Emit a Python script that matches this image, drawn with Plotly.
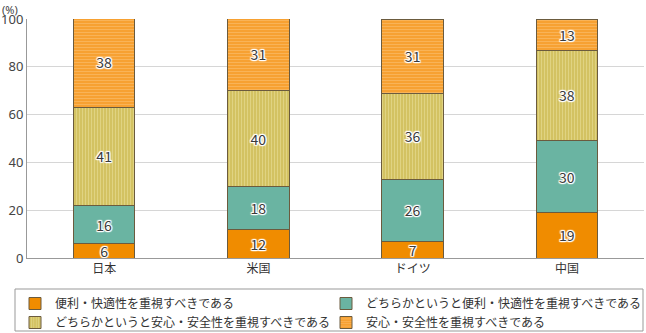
import plotly.graph_objects as go

countries = ["日本", "米国", "ドイツ", "中国"]

convenience = [6, 12, 7, 19]
rather_convenience = [16, 18, 26, 30]
rather_safety = [41, 40, 36, 38]
safety = [38, 31, 31, 13]

series_names = [
    "便利・快適性を重視すべきである",
    "どちらかというと便利・快適性を重視すべきである",
    "どちらかというと安心・安全性を重視すべきである",
    "安心・安全性を重視すべきである",
]
# legend column each series is listed in
legend_column = ["legend", "legend2", "legend", "legend2"]

FONT = "Noto Sans CJK JP"
NUM_FONT = "Noto Sans"
halo = ("1px 0 1px #fff, -1px 0 1px #fff, 0 1px 1px #fff, 0 -1px 1px #fff, "
        "1px 1px 1px #fff, -1px -1px 1px #fff, 1px -1px 1px #fff, -1px 1px 1px #fff")

styles = [
    dict(color="#F08C00"),
    dict(color="#6AB4A2"),
    dict(color="#D3C262", pattern=dict(shape="|", fgcolor="#EFE6A8", size=3, solidity=0.3)),
    dict(color="#F7A132", pattern=dict(shape="-", fgcolor="#FCCB85", size=3, solidity=0.3)),
]

fig = go.Figure()
for name, vals, st, lg in zip(series_names,
                              [convenience, rather_convenience, rather_safety, safety],
                              styles, legend_column):
    fig.add_trace(go.Bar(
        x=countries, y=vals, name=name, legend=lg,
        text=[str(v) for v in vals],
        textposition="inside", insidetextanchor="middle",
        textangle=0,
        textfont=dict(family=FONT, size=14, color="#3a3a3a", shadow=halo),
        marker=dict(line=dict(color="#6b5b3e", width=1), **st),
        width=0.4,
    ))

# plot area: 27px..644px horizontally, 19px..258px vertically
PLOT_L, PLOT_W, PLOT_B, PLOT_H = 27, 617, 258, 239
def px_x(px):
    return (px - PLOT_L) / PLOT_W
def px_y(py):
    return (PLOT_B - py) / PLOT_H

legend_common = dict(orientation="v", yanchor="top", xanchor="left",
                     y=px_y(289), bgcolor="rgba(0,0,0,0)", borderwidth=0,
                     itemwidth=30, traceorder="normal", tracegroupgap=0,
                     font=dict(family=FONT, size=12, color="#333"))

fig.update_layout(
    barmode="stack",
    width=646, height=333,
    margin=dict(l=PLOT_L, r=2, t=19, b=75, autoexpand=False),
    paper_bgcolor="white", plot_bgcolor="white",
    font=dict(family=FONT, size=12, color="#333"),
    uniformtext=dict(minsize=10, mode="show"),
    xaxis=dict(showline=True, linecolor="#999", linewidth=1, ticks="",
               tickfont=dict(size=12, color="#333")),
    yaxis=dict(range=[0, 100], dtick=20, showgrid=True, gridcolor="#d6d6d6",
               showline=True, linecolor="#999", linewidth=1, ticks="",
               tickfont=dict(family=NUM_FONT, size=13, color="#444"), zeroline=False),
    showlegend=True,
    legend=dict(x=px_x(15), **legend_common),
    legend2=dict(x=px_x(326), **legend_common),
    shapes=[dict(type="rect", xref="paper", yref="paper",
                 x0=px_x(15), x1=px_x(643), y0=px_y(331), y1=px_y(289),
                 line=dict(color="#999", width=1), fillcolor="rgba(0,0,0,0)",
                 layer="below")],
    annotations=[dict(text="(%)", x=0, y=1, xref="paper", yref="paper",
                      xshift=-27, yshift=19, xanchor="left", yanchor="top",
                      showarrow=False, font=dict(family=NUM_FONT, size=11, color="#444"))],
)

fig.write_html("out.html")
